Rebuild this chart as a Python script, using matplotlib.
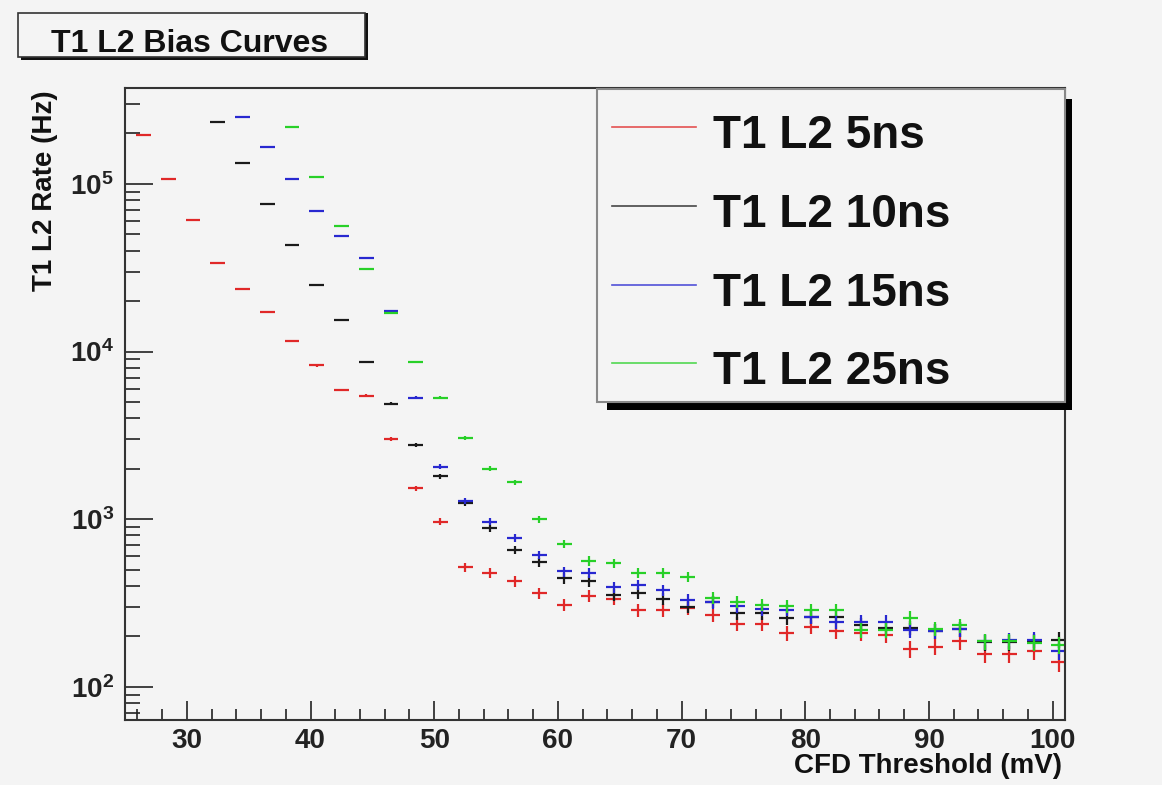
import numpy as np
import matplotlib
matplotlib.use("Agg")
import matplotlib.pyplot as plt
from matplotlib.patches import Rectangle
from matplotlib.lines import Line2D
from matplotlib.ticker import FixedLocator, MultipleLocator, LogLocator, FuncFormatter, NullFormatter

plt.rcParams["font.family"] = ["Liberation Sans", "DejaVu Sans"]
plt.rcParams["mathtext.fontset"] = "custom"
plt.rcParams["mathtext.rm"] = "Liberation Sans"
plt.rcParams["mathtext.bf"] = "Liberation Sans:bold"

nan = np.nan

# CFD threshold (mV)
threshold = [26.5, 28.5, 30.5, 32.5, 34.5, 36.5, 38.5, 40.5, 42.5, 44.5,
             46.5, 48.5, 50.5, 52.5, 54.5, 56.5, 58.5, 60.5, 62.5, 64.5,
             66.5, 68.5, 70.5, 72.5, 74.5, 76.5, 78.5, 80.5, 82.5, 84.5,
             86.5, 88.5, 90.5, 92.5, 94.5, 96.5, 98.5, 100.5]

# rates (Hz) per shaping time
rate_5ns = [196000, 107500, 61000, 33700, 23600, 17200, 11600, 8260, 5900, 5450,
            3000, 1530, 968, 518, 477, 426, 362, 309, 349, 334,
            288, 286, 295, 269, 238, 238, 210, 229, 215, 210,
            205, 168, 174, 187, 158, 157, 163, 141]
rate_10ns = [nan, nan, nan, 235000, 134000, 75700, 43300, 25000, 15500, 8650,
             4900, 2780, 1800, 1250, 885, 657, 555, 445, 426, 355,
             362, 335, 300, 323, 276, 276, 258, 263, 263, 235,
             225, 225, 215, 222, 185, 185, 186, 191]
rate_15ns = [nan, nan, nan, nan, 250000, 167000, 107000, 69300, 49200, 36000,
             17500, 5320, 2060, 1280, 968, 778, 614, 488, 477, 394,
             406, 376, 330, 320, 302, 290, 289, 263, 244, 244,
             244, 218, 215, 222, 187, 190, 191, 163]
rate_25ns = [nan, nan, nan, nan, nan, nan, 217000, 110000, 56300, 31000,
             16900, 8700, 5320, 3060, 2000, 1660, 1000, 716, 565, 547,
             481, 477, 452, 340, 323, 309, 302, 289, 289, 218,
             218, 258, 223, 233, 187, 187, 183, 178]

labels = ["T1 L2 5ns", "T1 L2 10ns", "T1 L2 15ns", "T1 L2 25ns"]
colors = ["#e02828", "#1a1a1a", "#2828d0", "#28d028"]
live_time = 0.45  # s, for counting errors

bg = "#f4f4f4"
W, H = 1162, 785

def fx(px):
    return px / W

def fy(py):
    return 1 - py / H

fig = plt.figure(figsize=(W / 100, H / 100), dpi=100, facecolor=bg)
ax = fig.add_axes([fx(125), fy(720), fx(1065) - fx(125), fy(88) - fy(720)])
ax.set_facecolor(bg)

x = np.array(threshold)
for rates, col in zip([rate_5ns, rate_10ns, rate_15ns, rate_25ns], colors):
    y = np.array(rates, dtype=float)
    yerr = np.sqrt(y * live_time) / live_time
    ax.errorbar(x, y, xerr=0.6, yerr=yerr, fmt="none", ecolor=col,
                elinewidth=1.6, capsize=0)

ax.set_yscale("log")
ax.set_xlim(25, 101)
ax.set_ylim(63.5, 3.73e5)

ax.xaxis.set_major_locator(MultipleLocator(10))
ax.xaxis.set_minor_locator(MultipleLocator(2))
ax.yaxis.set_major_locator(FixedLocator([1e2, 1e3, 1e4, 1e5]))
ax.yaxis.set_minor_locator(LogLocator(base=10, subs=np.arange(2, 10)))
ax.yaxis.set_minor_formatter(NullFormatter())
ax.yaxis.set_major_formatter(FuncFormatter(
    lambda v, p: r"$\mathbf{10^{%d}}$" % int(round(np.log10(v)))))

ax.tick_params(axis="x", which="major", direction="in", length=14, width=1.2,
               labelsize=20, pad=6, colors="#222222")
ax.tick_params(axis="x", which="minor", direction="in", length=8, width=1.2,
               colors="#222222")
ax.tick_params(axis="y", which="major", direction="in", length=20, width=1.2,
               labelsize=20, pad=8, colors="#222222")
ax.tick_params(axis="y", which="minor", direction="in", length=11, width=1.2,
               colors="#222222")
for lab in ax.get_xticklabels():
    lab.set_fontweight("bold")
for s in ax.spines.values():
    s.set_color("#333333")
    s.set_linewidth(1.5)

# axis titles
fig.text(fx(45), fy(90), "T1 L2 Rate (Hz)", rotation=90, ha="center", va="top",
         fontsize=20, fontweight="bold", color="#111111")
fig.text(fx(1062), fy(773), "CFD Threshold (mV)", ha="right", va="baseline",
         fontsize=20, fontweight="bold", color="#111111")

# title box
fig.patches.append(Rectangle((fx(21), fy(60)), fx(368) - fx(21), fy(13) - fy(60) - 0.0,
                             transform=fig.transFigure, facecolor="#111111",
                             edgecolor="none", zorder=5))
fig.patches.append(Rectangle((fx(18), fy(57)), fx(365) - fx(18), fy(13) - fy(57),
                             transform=fig.transFigure, facecolor=bg,
                             edgecolor="#333333", linewidth=1.2, zorder=6))
fig.text(fx(190), fy(52), "T1 L2 Bias Curves", ha="center", va="baseline",
         fontsize=23, fontweight="bold", color="#111111", zorder=7)

# legend box with shadow
fig.patches.append(Rectangle((fx(607), fy(410)), fx(1072) - fx(607), fy(99) - fy(410),
                             transform=fig.transFigure, facecolor="#000000",
                             edgecolor="none", zorder=5))
fig.patches.append(Rectangle((fx(597), fy(402)), fx(1065) - fx(597), fy(89) - fy(402),
                             transform=fig.transFigure, facecolor=bg,
                             edgecolor="#888888", linewidth=1.5, zorder=6))
rows = [148, 227, 306, 384]
for lab, col, yb in zip(labels, colors, rows):
    fig.lines.append(Line2D([fx(612), fx(696)], [fy(yb - 21), fy(yb - 21)],
                            transform=fig.transFigure, color=col, lw=1.2,
                            alpha=0.8, zorder=7))
    fig.text(fx(713), fy(yb), lab, ha="left", va="baseline", fontsize=33,
             fontweight="bold", color="#111111", zorder=7)

fig.savefig("out.png", dpi=100, facecolor=bg)
